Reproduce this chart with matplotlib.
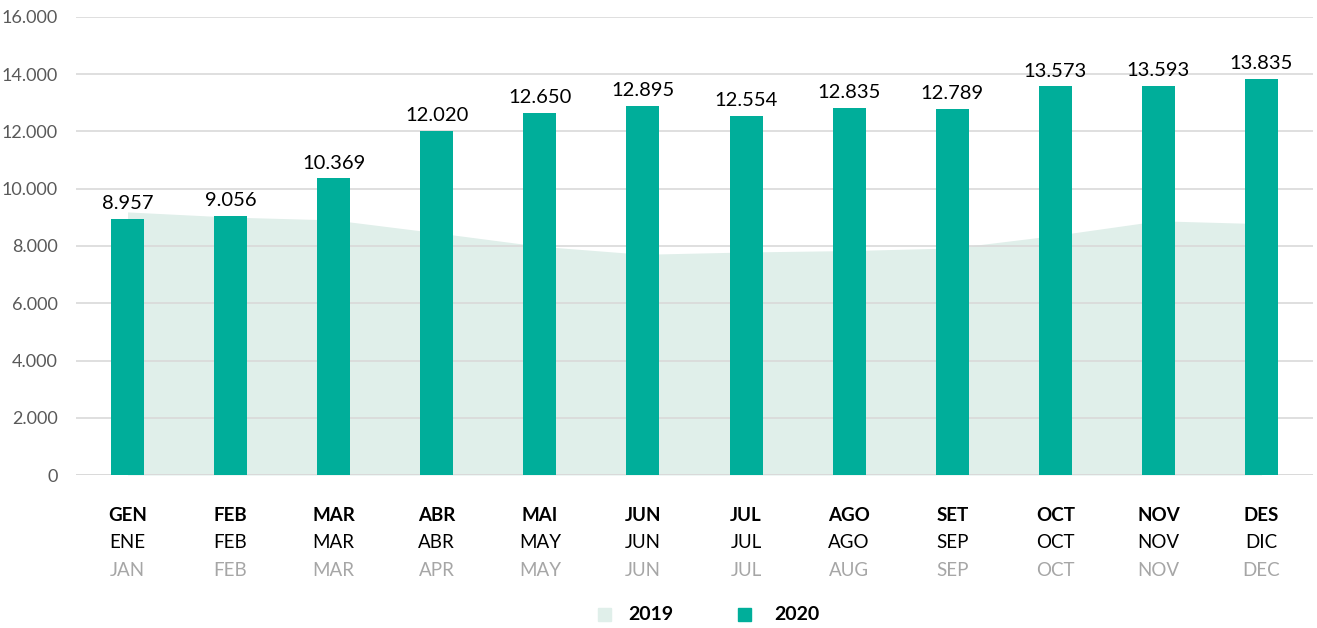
"""Monthly totals, 2020 bars over 2019 area."""

import matplotlib.pyplot as plt
import numpy as np

plt.rcParams['font.family'] = ['Lato', 'DejaVu Sans']

months_ca = ['GEN', 'FEB', 'MAR', 'ABR', 'MAI', 'JUN', 'JUL', 'AGO', 'SET', 'OCT', 'NOV', 'DES']
months_es = ['ENE', 'FEB', 'MAR', 'ABR', 'MAY', 'JUN', 'JUL', 'AGO', 'SEP', 'OCT', 'NOV', 'DIC']
months_en = ['JAN', 'FEB', 'MAR', 'APR', 'MAY', 'JUN', 'JUL', 'AUG', 'SEP', 'OCT', 'NOV', 'DEC']

values_2019 = [9190, 9010, 8910, 8460, 7990, 7710, 7790, 7840, 7930, 8370, 8880, 8780]
values_2020 = [8957, 9056, 10369, 12020, 12650, 12895, 12554, 12835, 12789, 13573, 13593, 13835]

yticks = [0, 2000, 4000, 6000, 8000, 10000, 12000, 14000, 16000]

col_2019 = '#e0efea'
col_2020 = '#00ae9a'


def fmt(v):
    return f"{v:,}".replace(',', '.')


fig = plt.figure(figsize=(13.17, 6.28), dpi=100)
ax = fig.add_axes([0.0577, 0.2436, 0.9393, 0.7294])

x = np.arange(len(months_ca))
ax.fill_between(x, values_2019, 0, color=col_2019, lw=0, zorder=1)
bars = ax.bar(x, values_2020, width=0.32, color=col_2020, zorder=3)

for xi, v in zip(x, values_2020):
    ax.text(xi, v + 230, fmt(v), ha='center', va='bottom', fontsize=14.5, color='black')

ax.set_xlim(-0.5, 11.5)
ax.set_ylim(0, 16000)
ax.set_yticks(yticks)
ax.set_yticklabels([fmt(t) for t in yticks], fontsize=13, color='#595959')
ax.tick_params(axis='y', length=0, pad=13)
ax.set_xticks([])
ax.grid(axis='y', color='#d9d9d9', lw=1.2, zorder=0)
for s in ax.spines.values():
    s.set_visible(False)
ax.axhline(0, color='#d9d9d9', lw=1.2, zorder=2)

# three-language month labels under each bar
for xi, ca, es, en in zip(x, months_ca, months_es, months_en):
    ax.text(xi, -1400, ca, ha='center', va='center', fontsize=13.5, fontweight='bold',
            color='black', clip_on=False)
    ax.text(xi, -2350, es, ha='center', va='center', fontsize=13.5,
            color='black', clip_on=False)
    ax.text(xi, -3330, en, ha='center', va='center', fontsize=13.5,
            color='#a6a6a6', clip_on=False)

# legend
fig.patches.append(plt.Rectangle((598 / 1317, 1 - 621 / 628), 13 / 1317, 13 / 628,
                                 transform=fig.transFigure, color=col_2019))
fig.text(628 / 1317, 1 - 615 / 628, '2019', fontsize=14, fontweight='bold', va='center')
fig.patches.append(plt.Rectangle((738 / 1317, 1 - 621 / 628), 13 / 1317, 13 / 628,
                                 transform=fig.transFigure, color=col_2020))
fig.text(774 / 1317, 1 - 615 / 628, '2020', fontsize=14, fontweight='bold', va='center')

plt.savefig('out.png', dpi=100)
plt.close()
